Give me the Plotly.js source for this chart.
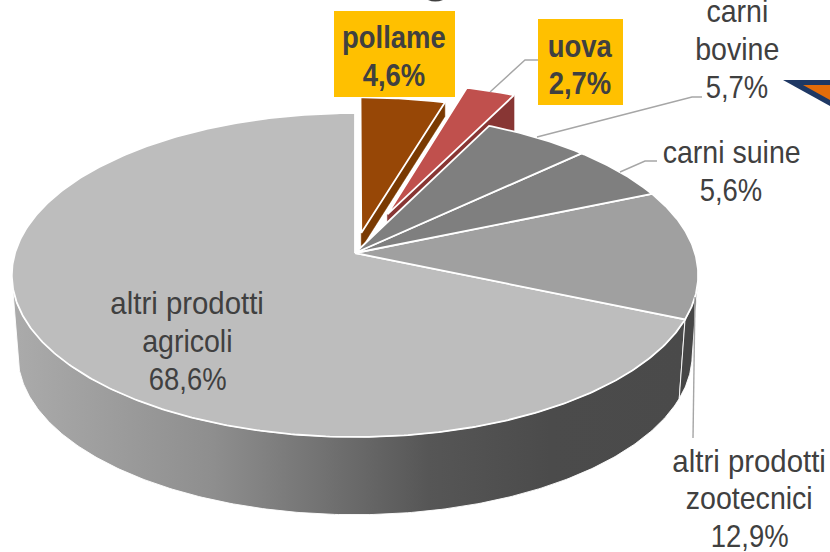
<!DOCTYPE html>
<html><head><meta charset="utf-8">
<script src="https://cdn.plot.ly/plotly-3.0.1.min.js"></script>
<style>html,body{margin:0;padding:0;background:#fff;overflow:hidden}</style>
</head><body><div id="chart" style="width:830px;height:552px"></div>
<script>
// --- data (clockwise from 12 o'clock) ---
const categories = ['pollame','uova','carni bovine','carni suine','altri prodotti zootecnici','altri prodotti agricoli'];
const values     = [4.6, 2.7, 5.7, 5.6, 12.9, 68.6];
const valueLabels = ['4,6%','2,7%','5,7%','5,6%','12,9%','68,6%'];
// --- styling ---
const topColors  = ['#974706','#C0504D','#7F7F7F','#7F7F7F','#A0A0A0','#BDBDBD'];
const faceColors = ['#7A3A02','#883634','#5f5f5f','#5f5f5f','#4a4a4a','#808080'];
const explode    = [0.13, 0.27, 0, 0, 0, 0];
const faceApex   = [15, 10, 0, 0, 0, 0];
const faceRim    = [14, 36, 0, 0, 0, 0];
// --- projection of the tilted disc into the pixel-scaled axes ---
const CX = 355, K = 0.136;
const TOP = {a:340, b:159, y0:253};
const BOT = {a:334, b:157, y0:333};
const proj = (X,Y,d) => { const w = 1+K*Y; return [CX+d.a*X/w, d.y0-d.b*Y/w]; };
const total = values.reduce((s,v)=>s+v,0);
const toAngle = c => 2*Math.PI*c/total;
const starts = []; let cum = 0;
values.forEach(v=>{starts.push(cum); cum+=v;});
const ends = values.map((v,i)=>starts[i]+v);

function offset(i){
  const mid = toAngle(starts[i]+values[i]/2);
  return [explode[i]*Math.sin(mid), explode[i]*Math.cos(mid)];
}
function arc(a0,a1,off,d){
  const n = Math.max(2,Math.ceil(Math.abs(a1-a0)/0.01)), pts=[];
  for(let j=0;j<=n;j++){
    const t=a0+(a1-a0)*j/n;
    pts.push(proj(Math.sin(t)+off[0],Math.cos(t)+off[1],d));
  }
  return pts;
}
function poly(pts,fill,line,lw,extra){
  const xs=pts.map(p=>p[0]), ys=pts.map(p=>p[1]);
  xs.push(xs[0]); ys.push(ys[0]);
  return Object.assign({type:'scatter',mode:'lines',x:xs,y:ys,fill:'toself',fillcolor:fill,
    line:{color:line,width:lw},hoverinfo:'skip',showlegend:false},extra||{});
}
function topSlice(i){
  const o=offset(i);
  return poly([proj(o[0],o[1],TOP)].concat(arc(toAngle(starts[i]),toAngle(ends[i]),o,TOP)),topColors[i],'#ffffff',1.8);
}
function radialFace(i){
  const o=offset(i), e=toAngle(ends[i]);
  const ap=proj(o[0],o[1],TOP), rim=proj(Math.sin(e)+o[0],Math.cos(e)+o[1],TOP);
  return poly([ap,rim,[rim[0],rim[1]+faceRim[i]],[ap[0],ap[1]+faceApex[i]]],faceColors[i],faceColors[i],0.5);
}
function wall(a0,a1,fill,extra){
  const t=arc(a0,a1,[0,0],TOP), b=arc(a0,a1,[0,0],BOT).reverse();
  return poly(t.concat(b),fill,'rgba(255,255,255,0.9)',1,extra);
}
const grad={fillgradient:{type:'horizontal',colorscale:[[0,'#ababab'],[0.3,'#8e8e8e'],[0.45,'#747474'],[0.62,'#565656'],[0.8,'#4b4b4b'],[1,'#4a4a4a']]}};
const agrStart=toAngle(starts[5]);
// painter's order, rear to front
const traces=[
  wall(agrStart,Math.PI*1.452,'#808080',grad),
  wall(Math.PI*0.548,agrStart,'#464646'),
  topSlice(5),
  radialFace(0), topSlice(0),
  radialFace(1), topSlice(1),
  topSlice(4), topSlice(3), topSlice(2)
];

// leader lines
const leaders=[
  [[490,92],[525,60],[538,60]],
  [[537,137],[692,97],[702,97]],
  [[620,172],[645,161],[657,161]],
  [[695,297],[693,438]]
];
leaders.forEach(l=>traces.push({type:'scatter',mode:'lines',x:l.map(p=>p[0]),y:l.map(p=>p[1]),
  line:{color:'#A6A6A6',width:1.4},hoverinfo:'skip',showlegend:false}));

const FONT='"Liberation Sans",sans-serif';
const textColor='#404040', fs=28;
// one annotation per text line, so the line pitch of the reference can be kept
const block=(x,ys,lines,bold)=>lines.map((s,i)=>({x,y:ys[i],xref:'x',yref:'y',showarrow:false,xanchor:'center',yanchor:'middle',
  text:bold?'<b>'+s+'</b>':s,font:{family:FONT,size:fs,color:textColor}}));
const annotations=[].concat(
  block(187,[303,341,379],['altri prodotti','agricoli',valueLabels[5]]),
  block(749,[461,498,536],['altri prodotti','zootecnici',valueLabels[4]]),
  block(731,[152,190],['carni suine',valueLabels[3]]),
  block(737,[11,49,87],['carni','bovine',valueLabels[2]]),
  block(394,[37,75],[categories[0],valueLabels[0]],true),
  block(580,[46,83],[categories[1],valueLabels[1]],true)
);
const shapes=[
  {type:'rect',x0:334,x1:455,y0:11,y1:97,fillcolor:'#FFC000',line:{width:0}},
  {type:'rect',x0:538,x1:623,y0:19,y1:105,fillcolor:'#FFC000',line:{width:0}},
  {type:'path',path:'M783,80 L830,80 L830,106 Z',fillcolor:'#1F3864',line:{width:0}},
  {type:'path',path:'M803,85 L830,85 L830,100 Z',fillcolor:'#E36C0A',line:{width:0}},
  {type:'path',path:'M428,0 Q435,3 443,0 Z',fillcolor:'#404040',line:{width:0}}
];
Plotly.newPlot('chart',traces,{
  width:830,height:552,margin:{l:0,r:0,t:0,b:0},paper_bgcolor:'#fff',plot_bgcolor:'#fff',showlegend:false,
  xaxis:{range:[0,830],visible:false,fixedrange:true},
  yaxis:{range:[552,0],visible:false,fixedrange:true},
  annotations,shapes
},{staticPlot:true,displayModeBar:false}).then(()=>{
  // the reference uses a tall, narrow face: stretch each text line about its centre
  document.querySelectorAll('.annotation-text').forEach(t=>{
    const b=t.getBBox(), cx=b.x+b.width/2, cy=b.y+b.height/2;
    const txt=t.textContent;
    const bold=t.innerHTML.indexOf('bold')>=0;
    const sx=bold?0.98:(txt.indexOf('%')>=0?0.98:(txt==='altri prodotti'?1.05:1.02)), sy=1.14;
    t.setAttribute('transform',`translate(${cx},${cy}) scale(${sx},${sy}) translate(${-cx},${-cy})`);
  });
});
</script></body></html>
